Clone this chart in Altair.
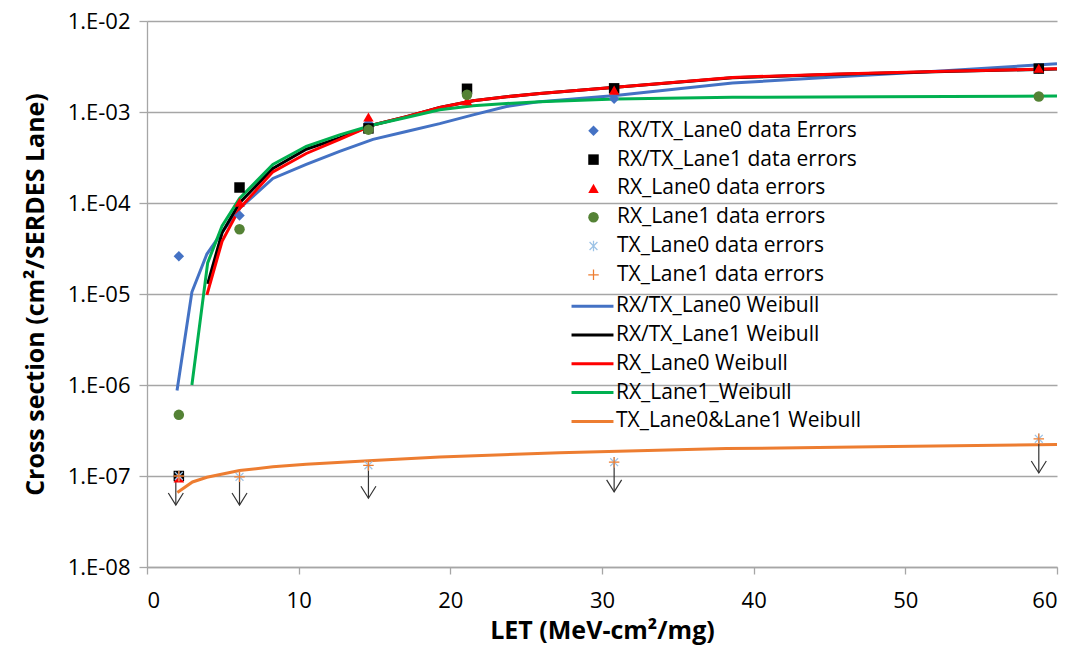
import altair as alt
import pandas as pd

# ---------------- data ----------------
# measured cross sections (cm^2 / SERDES lane) vs LET (MeV-cm^2/mg)
let_pts = [2.1, 6.1, 14.6, 21.1, 30.8, 58.8]
rxtx_lane0_err = [2.6e-5, 7.3e-5, 7.5e-4, 1.6e-3, 1.4e-3, 3.0e-3]
rxtx_lane1_err = [1.0e-7, 1.48e-4, 6.6e-4, 1.8e-3, 1.82e-3, 3.0e-3]
rx_lane0_err = [9.5e-8, 1.02e-4, 8.8e-4, 1.33e-3, 1.74e-3, 3.03e-3]
rx_lane1_let = [2.1, 6.1, 14.6, 21.1, 58.8]
rx_lane1_err = [4.7e-7, 5.15e-5, 6.4e-4, 1.55e-3, 1.48e-3]
tx_let = [2.1, 6.1, 14.6, 30.8, 58.8]
tx_lane0_err = [1.0e-7, 9.8e-8, 1.31e-7, 1.42e-7, 2.56e-7]
tx_lane1_err = [1.0e-7, 9.8e-8, 1.31e-7, 1.42e-7, 2.56e-7]

# upper-limit arrows (start at the marker, end at the arrow tip)
arrow_let = [1.9, 6.1, 14.6, 30.8, 58.8]
arrow_top = [1.0e-7, 9.8e-8, 1.31e-7, 1.42e-7, 2.56e-7]
arrow_tip = [4.8e-8, 4.8e-8, 5.7e-8, 6.7e-8, 1.08e-7]

# Weibull fits
wb_rxtx0_let = [1.98, 2.96, 3.95, 5.0, 6.1, 8.3, 10.5, 12.7, 14.9, 17.1, 19.3, 21.5, 23.7, 25.9, 30.9, 38.6, 45.6, 52.6, 60]
wb_rxtx0_val = [8.7e-7, 1.05e-5, 2.75e-5, 4.9e-5, 8.7e-5, 1.86e-4, 2.65e-4, 3.7e-4, 5.0e-4, 6.1e-4, 7.45e-4, 9.3e-4, 1.15e-3, 1.3e-3, 1.52e-3, 2.08e-3, 2.44e-3, 2.84e-3, 3.39e-3]
wb_rxtx1_let = [4.0, 4.95, 6.1, 8.3, 10.5, 12.7, 14.9, 17.1, 19.3, 21.5, 23.7, 25.9, 30.9, 38.6, 45.6, 52.6, 60]
wb_rxtx1_val = [1.29e-5, 4.7e-5, 1.0e-4, 2.4e-4, 3.9e-4, 5.2e-4, 7.2e-4, 8.9e-4, 1.12e-3, 1.33e-3, 1.47e-3, 1.6e-3, 1.87e-3, 2.38e-3, 2.6e-3, 2.79e-3, 2.97e-3]
wb_rx0_let = [3.95, 4.95, 6.1, 8.3, 10.5, 12.7, 14.9, 17.1, 19.3, 21.5, 23.7, 25.9, 30.9, 38.6, 45.6, 52.6, 60]
wb_rx0_val = [9.8e-6, 3.8e-5, 8.7e-5, 2.2e-4, 3.5e-4, 5.0e-4, 7.2e-4, 8.9e-4, 1.12e-3, 1.33e-3, 1.47e-3, 1.6e-3, 1.87e-3, 2.4e-3, 2.62e-3, 2.8e-3, 2.98e-3]
wb_rx1_let = [2.96, 4.0, 4.95, 6.1, 8.3, 10.5, 12.7, 14.9, 17.1, 19.3, 21.5, 23.7, 25.9, 30.9, 38.6, 48.3, 60]
wb_rx1_val = [1.0e-6, 2.2e-5, 5.6e-5, 1.12e-4, 2.65e-4, 4.2e-4, 5.6e-4, 7.2e-4, 8.7e-4, 1.06e-3, 1.17e-3, 1.24e-3, 1.3e-3, 1.39e-3, 1.45e-3, 1.47e-3, 1.5e-3]
wb_tx_let = [2.0, 3.0, 3.95, 6.1, 8.3, 10.5, 14.9, 19.3, 27.2, 38.2, 49.2, 60]
wb_tx_val = [6.6e-8, 8.6e-8, 9.7e-8, 1.15e-7, 1.26e-7, 1.35e-7, 1.48e-7, 1.62e-7, 1.8e-7, 2.0e-7, 2.11e-7, 2.22e-7]

point_names = ["RX/TX_Lane0 data Errors", "RX/TX_Lane1 data errors", "RX_Lane0 data errors",
               "RX_Lane1 data errors", "TX_Lane0 data errors", "TX_Lane1 data errors"]
line_names = ["RX/TX_Lane0 Weibull", "RX/TX_Lane1 Weibull", "RX_Lane0 Weibull",
              "RX_Lane1_Weibull", "TX_Lane0&Lane1 Weibull"]
y_ticks = [1e-8, 1e-7, 1e-6, 1e-5, 1e-4, 1e-3, 1e-2]
x_ticks = [0, 10, 20, 30, 40, 50, 60]

# ---------------- tables ----------------
pt_sets = [(let_pts, rxtx_lane0_err), (let_pts, rxtx_lane1_err), (let_pts, rx_lane0_err),
           (rx_lane1_let, rx_lane1_err), (tx_let, tx_lane0_err), (tx_let, tx_lane1_err)]
rows = []
for name, (xs, ys) in zip(point_names, pt_sets):
    for x, y in zip(xs, ys):
        rows.append({"LET": x, "sigma": y, "series": name})
pts_df = pd.DataFrame(rows)

ln_sets = [(wb_rxtx0_let, wb_rxtx0_val), (wb_rxtx1_let, wb_rxtx1_val), (wb_rx0_let, wb_rx0_val),
           (wb_rx1_let, wb_rx1_val), (wb_tx_let, wb_tx_val)]
rows = []
for k, (name, (xs, ys)) in enumerate(zip(line_names, ln_sets)):
    for i, (x, y) in enumerate(zip(xs, ys)):
        rows.append({"LET": x, "sigma": y, "fit": name, "i": i})
lines_df = pd.DataFrame(rows)

arrows_df = pd.DataFrame({"LET": arrow_let, "top": arrow_top, "tip": arrow_tip})

# ---------------- styling ----------------
FONT = "Open Sans"
GRAY = "#a6a6a6"
point_colors = ["#4472c4", "#000000", "#ff0000", "#548235", "#9dc3e6", "#ed7d31"]
asterisk = ("M-0.12,-1H0.12V1H-0.12Z "
            "M-0.665,-0.835L0.835,0.665L0.665,0.835L-0.835,-0.665Z "
            "M-0.835,0.665L0.665,-0.835L0.835,-0.665L-0.665,0.835Z")
plus = "M-1,-0.12H1V0.12H-1Z M-0.12,-1H0.12V1H-0.12Z"
point_shapes = ["diamond", "square", "triangle-up", "circle", asterisk, plus]
line_colors = ["#4472c4", "#000000", "#ff0000", "#00b050", "#ed7d31"]

x_enc = alt.X("LET:Q", scale=alt.Scale(domain=[0, 60], nice=False, zero=False),
              axis=alt.Axis(values=x_ticks, grid=False, title="LET (MeV-cm²/mg)",
                            tickSize=7, labelPadding=16, titleX=455, titleY=71,
                            titleBaseline="alphabetic", titleAlign="center"))
y_scale = alt.Scale(type="log", domain=[1e-8, 1e-2], nice=False)
y_axis = alt.Axis(values=y_ticks, grid=True, title="Cross section (cm²/SERDES Lane)",
                  labelExpr="'1.E-0' + format(-log(datum.value)/LN10, '.0f')",
                  tickSize=8, labelPadding=9, titleX=-104, titleY=273, titleAngle=270,
                  titleBaseline="alphabetic", titleAlign="center")

lines = alt.Chart(lines_df).mark_line(strokeWidth=3).encode(
    x=x_enc,
    y=alt.Y("sigma:Q", scale=y_scale, axis=y_axis),
    color=alt.Color("fit:N", scale=alt.Scale(domain=line_names, range=line_colors),
                    legend=alt.Legend(orient="none", legendX=435, legendY=274.7, title=None,
                                      symbolType="M-4,0H4", symbolSize=110, symbolStrokeWidth=3,
                                      symbolFillColor="transparent",
                                      labelFont=FONT, labelFontSize=21, labelColor="#000",
                                      labelLimit=0, labelOffset=13, rowPadding=6.8)),
    order=alt.Order("i:Q"),
)

rules = alt.Chart(arrows_df).mark_rule(color="#333333", strokeWidth=1.2).encode(
    x="LET:Q", y=alt.Y("top:Q", scale=y_scale), y2="tip:Q")

heads = alt.Chart(arrows_df).mark_point(shape="M-1,-1.6L0,0L1,-1.6", filled=False, size=225,
                                       color="#333333", strokeWidth=1.2, opacity=1).encode(
    x="LET:Q", y=alt.Y("tip:Q", scale=y_scale))

pt_legend = alt.Legend(orient="none", legendX=436, legendY=99.3, title=None, symbolSize=110,
                       symbolStrokeWidth=0, labelFont=FONT, labelFontSize=21, labelColor="#000",
                       labelLimit=0, labelOffset=13, rowPadding=6.8)
points = alt.Chart(pts_df).mark_point(filled=True, size=110, opacity=1, strokeWidth=0).encode(
    x="LET:Q",
    y=alt.Y("sigma:Q", scale=y_scale),
    color=alt.Color("series:N", scale=alt.Scale(domain=point_names, range=point_colors), legend=pt_legend),
    shape=alt.Shape("series:N", scale=alt.Scale(domain=point_names, range=point_shapes), legend=pt_legend),
)

chart = alt.layer(lines, rules, heads, points).resolve_scale(
    color="independent", shape="independent"
).properties(
    width=910, height=546,
    padding={"left": 139, "top": 13, "right": 8, "bottom": 79},
    autosize=alt.AutoSizeParams(type="none"),
).configure_view(stroke=None).configure_axis(
    domainColor=GRAY, gridColor=GRAY, tickColor=GRAY, domainWidth=1.3, gridWidth=1.3, tickWidth=1.3,
    labelFont=FONT, labelFontSize=22, labelColor="#000",
    titleFont=FONT, titleFontSize=25, titleFontWeight="bold", titleColor="#000",
)

chart.save("out.html", embed_options={"renderer": "svg", "actions": False})
